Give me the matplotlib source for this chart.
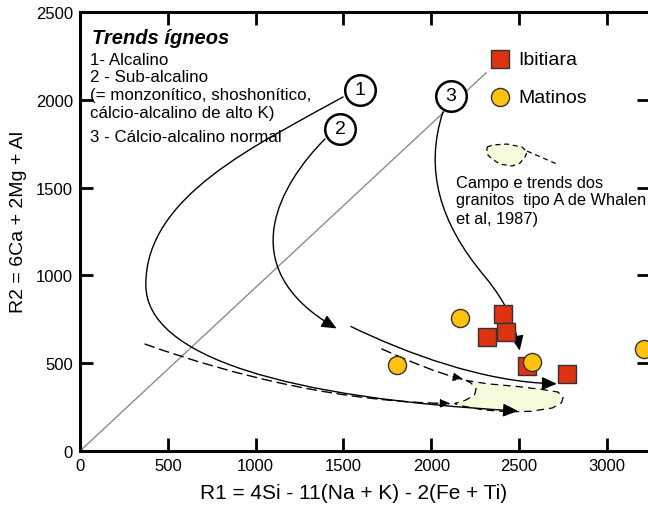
import matplotlib
matplotlib.use("Agg")
import matplotlib.pyplot as plt
from matplotlib.path import Path
from matplotlib.patches import FancyArrowPatch, Polygon

plt.rcParams['font.family'] = ['Liberation Sans', 'DejaVu Sans']

# samples
ibitiara_x = [2407, 2318, 2424, 2547, 2773]
ibitiara_y = [783, 651, 677, 483, 440]
matinos_x = [2163, 1808, 2574, 3213]
matinos_y = [755, 492, 506, 581]

# schematic trends (cubic bezier control points, data units)
trend1 = [(1498, 2016), (1000, 1740), (375, 1450), (375, 950),
          (370, 530), (1200, 300), (2494, 228)]
trend2 = [(1395, 1777), (1150, 1530), (850, 1050), (1461, 698)]
trend2b = [(1543, 709), (1850, 560), (2300, 390), (2715, 383)]
trend3 = [(2067, 1931), (1960, 1600), (2050, 1300), (2300, 1000),
          (2450, 820), (2480, 700), (2504, 572)]
whalen1 = [(370, 609), (900, 420), (1500, 280), (2111, 270)]
whalen2 = [(1719, 581), (1880, 510), (2030, 445), (2184, 408)]
whalen_field = [(2198, 402), (2318, 383), (2483, 368), (2628, 351), (2721, 336),
                (2752, 308), (2742, 275), (2690, 245), (2566, 226), (2442, 223),
                (2297, 234), (2173, 257), (2132, 270), (2194, 289), (2246, 317),
                (2256, 355), (2225, 389)]
key_field = [(2318, 1731), (2352, 1743), (2432, 1748), (2517, 1731), (2546, 1703),
             (2534, 1674), (2506, 1640), (2460, 1623), (2392, 1634), (2346, 1663),
             (2318, 1691)]
key_trend_x = [2546, 2716]
key_trend_y = [1708, 1634]
circles = [('1', 1595, 2056), ('2', 1481, 1834), ('3', 2113, 2022)]
diag_x = [0, 2312]
diag_y = [0, 2153]

fig = plt.figure(figsize=(6.48, 5.10), dpi=100)
ax = fig.add_axes([80/648, 58/510, 570/648, 439/510])
ax.set_xlim(0, 3246)
ax.set_ylim(0, 2500)

ax.plot(diag_x, diag_y, color='#8c8c8c', lw=1.0, zorder=1)


def curve(pts, ls='-', head=0.45, width=0.2):
    codes = [Path.MOVETO] + [Path.CURVE4] * (len(pts) - 1)
    p = FancyArrowPatch(path=Path(pts, codes),
                        arrowstyle='-|>,head_length=%s,head_width=%s' % (head, width),
                        mutation_scale=20, color='black', lw=1.0, linestyle=ls,
                        zorder=3)
    ax.add_patch(p)


ax.add_patch(Polygon(whalen_field, closed=True, fc='#f7fbdc', ec='black',
                     lw=0.9, ls=(0, (6, 4)), zorder=2))
curve(trend1)
curve(trend2)
curve(trend2b)
curve(trend3)
curve(whalen1, ls=(0, (7, 4)), head=0.3, width=0.12)
curve(whalen2, ls=(0, (7, 4)), head=0.3, width=0.12)

ax.scatter(ibitiara_x, ibitiara_y, marker='s', s=160, c='#dd3311',
           edgecolors='#333333', linewidths=1.0, zorder=5, label='Ibitiara')
ax.scatter(matinos_x, matinos_y, marker='o', s=170, c='#ffc20e',
           edgecolors='#333333', linewidths=1.0, zorder=5, label='Matinos')
ax.legend(loc='upper left', bbox_to_anchor=(0.70, 0.935), frameon=False,
          fontsize=14, handletextpad=0.3, labelspacing=1.05, borderpad=0,
          handlelength=1.2)

for num, cx, cy in circles:
    ax.plot(cx, cy, marker='o', ms=22, mfc='white', mec='black', mew=1.8,
            zorder=6)
    ax.text(cx, cy, num, fontsize=14, ha='center', va='center', zorder=7)

ax.add_patch(Polygon(key_field, closed=True, fc='#f7fbdc', ec='black',
                     lw=0.9, ls=(0, (4, 3)), zorder=2))
ax.plot(key_trend_x, key_trend_y, color='black', lw=0.9, ls=(0, (4, 3)))
ax.text(2141, 1503, 'Campo e trends dos', fontsize=11.8)
ax.text(2141, 1407, 'granitos  tipo A de Whalen', fontsize=11.8)
ax.text(2141, 1298, 'et al, 1987)', fontsize=11.8)

ax.text(68, 2323, 'Trends ígneos', fontsize=14.5, fontweight='bold',
        fontstyle='italic')
ax.text(57, 2204, '1- Alcalino', fontsize=12.2)
ax.text(57, 2107, '2 - Sub-alcalino', fontsize=12.2)
ax.text(57, 2004, '(= monzonítico, shoshonítico,', fontsize=12.2)
ax.text(57, 1902, 'cálcio-alcalino de alto K)', fontsize=12.2)
ax.text(57, 1765, '3 - Cálcio-alcalino normal', fontsize=12.2)

ax.set_xticks(range(0, 3001, 500))
ax.set_yticks(range(0, 2501, 500))
ax.tick_params(direction='in', length=9.5, width=2.0, top=True, right=True,
               labelsize=12, pad=5)
for s in ax.spines.values():
    s.set_linewidth(2.2)

ax.set_xlabel('R1 = 4Si - 11(Na + K) - 2(Fe + Ti)', fontsize=15)
ax.set_ylabel('R2 = 6Ca + 2Mg + Al', fontsize=14)
ax.xaxis.set_label_coords(274/570, -32/439)
ax.yaxis.set_label_coords(-53/570, 0.524)

fig.savefig('out.png', dpi=100)
